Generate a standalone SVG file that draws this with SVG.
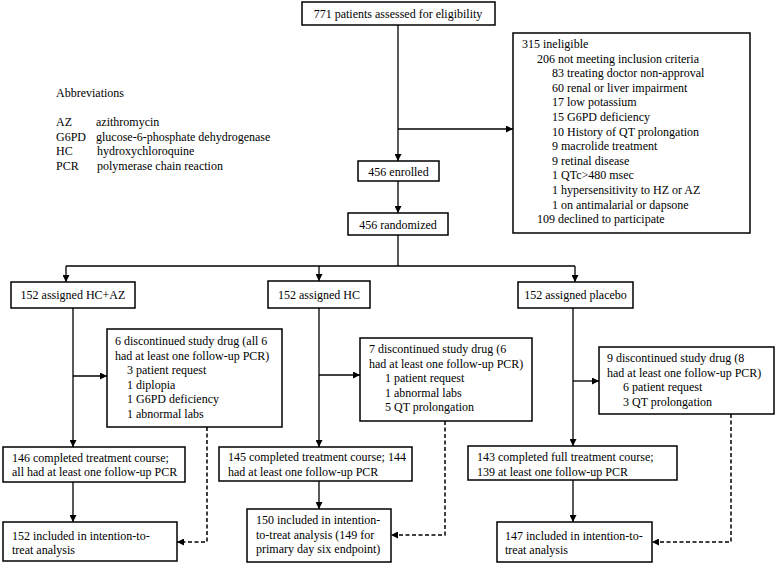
<svg xmlns="http://www.w3.org/2000/svg" width="777" height="565" viewBox="0 0 777 565">
<style>
text{font-family:"Liberation Serif","Times New Roman",serif;font-size:12px;fill:#000}
.c{text-anchor:middle}
.box{fill:#fff;stroke:#000;stroke-width:1.5}
.ln{fill:none;stroke:#000;stroke-width:1.3}
.ds{fill:none;stroke:#000;stroke-width:1.5;stroke-dasharray:4 2.5}
</style>
<defs>
<marker id="ah" markerUnits="userSpaceOnUse" markerWidth="8" markerHeight="7" refX="7" refY="3.5" orient="auto">
<path d="M0,0 L7,3.5 L0,7 z" fill="#000"/>
</marker>
</defs>
<rect width="777" height="565" fill="#fff"/>

<g id="connectors">
<path class="ln" d="M398,25 V161" marker-end="url(#ah)"/>
<path class="ln" d="M398,129 H513" marker-end="url(#ah)"/>
<path class="ln" d="M398,181 V213" marker-end="url(#ah)"/>
<path class="ln" d="M398,235 V266"/>
<path class="ln" d="M66,266 H575"/>
<path class="ln" d="M66,266 V282" marker-end="url(#ah)"/>
<path class="ln" d="M319,266 V281" marker-end="url(#ah)"/>
<path class="ln" d="M575,266 V282" marker-end="url(#ah)"/>
<path class="ln" d="M73,308 V447" marker-end="url(#ah)"/>
<path class="ln" d="M73,376 H107" marker-end="url(#ah)"/>
<path class="ln" d="M73,482 V522" marker-end="url(#ah)"/>
<path class="ds" d="M207,427 V542 H177" marker-end="url(#ah)"/>
<path class="ln" d="M319,308 V447" marker-end="url(#ah)"/>
<path class="ln" d="M319,375 H360" marker-end="url(#ah)"/>
<path class="ln" d="M319,481 V509" marker-end="url(#ah)"/>
<path class="ds" d="M445,421 V535 H391" marker-end="url(#ah)"/>
<path class="ln" d="M573,308 V446" marker-end="url(#ah)"/>
<path class="ln" d="M573,381 H599" marker-end="url(#ah)"/>
<path class="ln" d="M573,480 V522" marker-end="url(#ah)"/>
<path class="ds" d="M731,414 V542 H652" marker-end="url(#ah)"/>
</g>

<g id="assessed">
<rect class="box" x="302" y="2" width="193" height="23"/>
<text class="c" x="398" y="18">771 patients assessed for eligibility</text>
</g>

<g id="abbreviations">
<text x="56" y="97">Abbreviations</text>
<text x="56" y="126">AZ</text><text x="96" y="126">azithromycin</text>
<text x="56" y="141">G6PD</text><text x="96" y="141">glucose-6-phosphate dehydrogenase</text>
<text x="56" y="155">HC</text><text x="97" y="155">hydroxychloroquine</text>
<text x="56" y="170">PCR</text><text x="97" y="170">polymerase chain reaction</text>
</g>

<g id="ineligible">
<rect class="box" x="513" y="33" width="237" height="200"/>
<text x="522" y="48">315 ineligible</text>
<text x="537" y="62.6">206 not meeting inclusion criteria</text>
<text x="552" y="77.2">83 treating doctor non-approval</text>
<text x="552" y="91.8">60 renal or liver impairment</text>
<text x="552" y="106.4">17 low potassium</text>
<text x="552" y="121">15 G6PD deficiency</text>
<text x="552" y="135.6">10 History of QT prolongation</text>
<text x="552" y="150.2">9 macrolide treatment</text>
<text x="552" y="164.8">9 retinal disease</text>
<text x="552" y="179.4">1 QTc&gt;480 msec</text>
<text x="552" y="194">1 hypersensitivity to HZ or AZ</text>
<text x="552" y="208.6">1 on antimalarial or dapsone</text>
<text x="537" y="223.2">109 declined to participate</text>
</g>

<g id="enrolled">
<rect class="box" x="358" y="161" width="81" height="20"/>
<text class="c" x="398.5" y="176">456 enrolled</text>
</g>

<g id="randomized">
<rect class="box" x="348" y="213" width="100" height="22"/>
<text class="c" x="398" y="228.5">456 randomized</text>
</g>

<g id="assigned-hcaz">
<rect class="box" x="11" y="282" width="124" height="26"/>
<text class="c" x="73" y="298.5">152 assigned HC+AZ</text>
</g>
<g id="assigned-hc">
<rect class="box" x="268" y="281" width="102" height="27"/>
<text class="c" x="319" y="298.5">152 assigned HC</text>
</g>
<g id="assigned-placebo">
<rect class="box" x="518" y="282" width="115" height="26"/>
<text class="c" x="575.5" y="298.5">152 assigned placebo</text>
</g>

<g id="disc-hcaz">
<rect class="box" x="107" y="329" width="175" height="98"/>
<text x="115" y="345">6 discontinued study drug (all 6</text>
<text x="115" y="359.5">had at least one follow-up PCR)</text>
<text x="127" y="374">3 patient request</text>
<text x="127" y="388.5">1 diplopia</text>
<text x="127" y="403">1 G6PD deficiency</text>
<text x="127" y="417.5">1 abnormal labs</text>
</g>
<g id="disc-hc">
<rect class="box" x="360" y="338" width="172" height="83"/>
<text x="369" y="353">7 discontinued study drug (6</text>
<text x="369" y="367.5">had at least one follow-up PCR)</text>
<text x="385" y="382">1 patient request</text>
<text x="385" y="396.5">1 abnormal labs</text>
<text x="385" y="411">5 QT prolongation</text>
</g>
<g id="disc-placebo">
<rect class="box" x="599" y="347" width="175" height="67"/>
<text x="607" y="362">9 discontinued study drug (8</text>
<text x="607" y="376.5">had at least one follow-up PCR)</text>
<text x="623" y="391">6 patient request</text>
<text x="623" y="405.5">3 QT prolongation</text>
</g>

<g id="completed-hcaz">
<rect class="box" x="3" y="447" width="182" height="35"/>
<text x="12" y="461.5">146 completed treatment course;</text>
<text x="12" y="476">all had at least one follow-up PCR</text>
</g>
<g id="completed-hc">
<rect class="box" x="219" y="447" width="193" height="34"/>
<text x="228" y="461">145 completed treatment course; 144</text>
<text x="228" y="475.5">had at least one follow-up PCR</text>
</g>
<g id="completed-placebo">
<rect class="box" x="468" y="446" width="209" height="34"/>
<text x="477" y="461">143 completed full treatment course;</text>
<text x="477" y="475.5">139 at least one follow-up PCR</text>
</g>

<g id="itt-hcaz">
<rect class="box" x="3" y="522" width="174" height="39"/>
<text x="12" y="539.5">152 included in intention-to-</text>
<text x="12" y="554">treat analysis</text>
</g>
<g id="itt-hc">
<rect class="box" x="247" y="509" width="144" height="53"/>
<text x="256" y="524">150 included in intention-</text>
<text x="256" y="538.5">to-treat analysis (149 for</text>
<text x="256" y="553">primary day six endpoint)</text>
</g>
<g id="itt-placebo">
<rect class="box" x="497" y="522" width="155" height="40"/>
<text x="505" y="539.5">147 included in intention-to-</text>
<text x="505" y="554">treat analysis</text>
</g>
</svg>
